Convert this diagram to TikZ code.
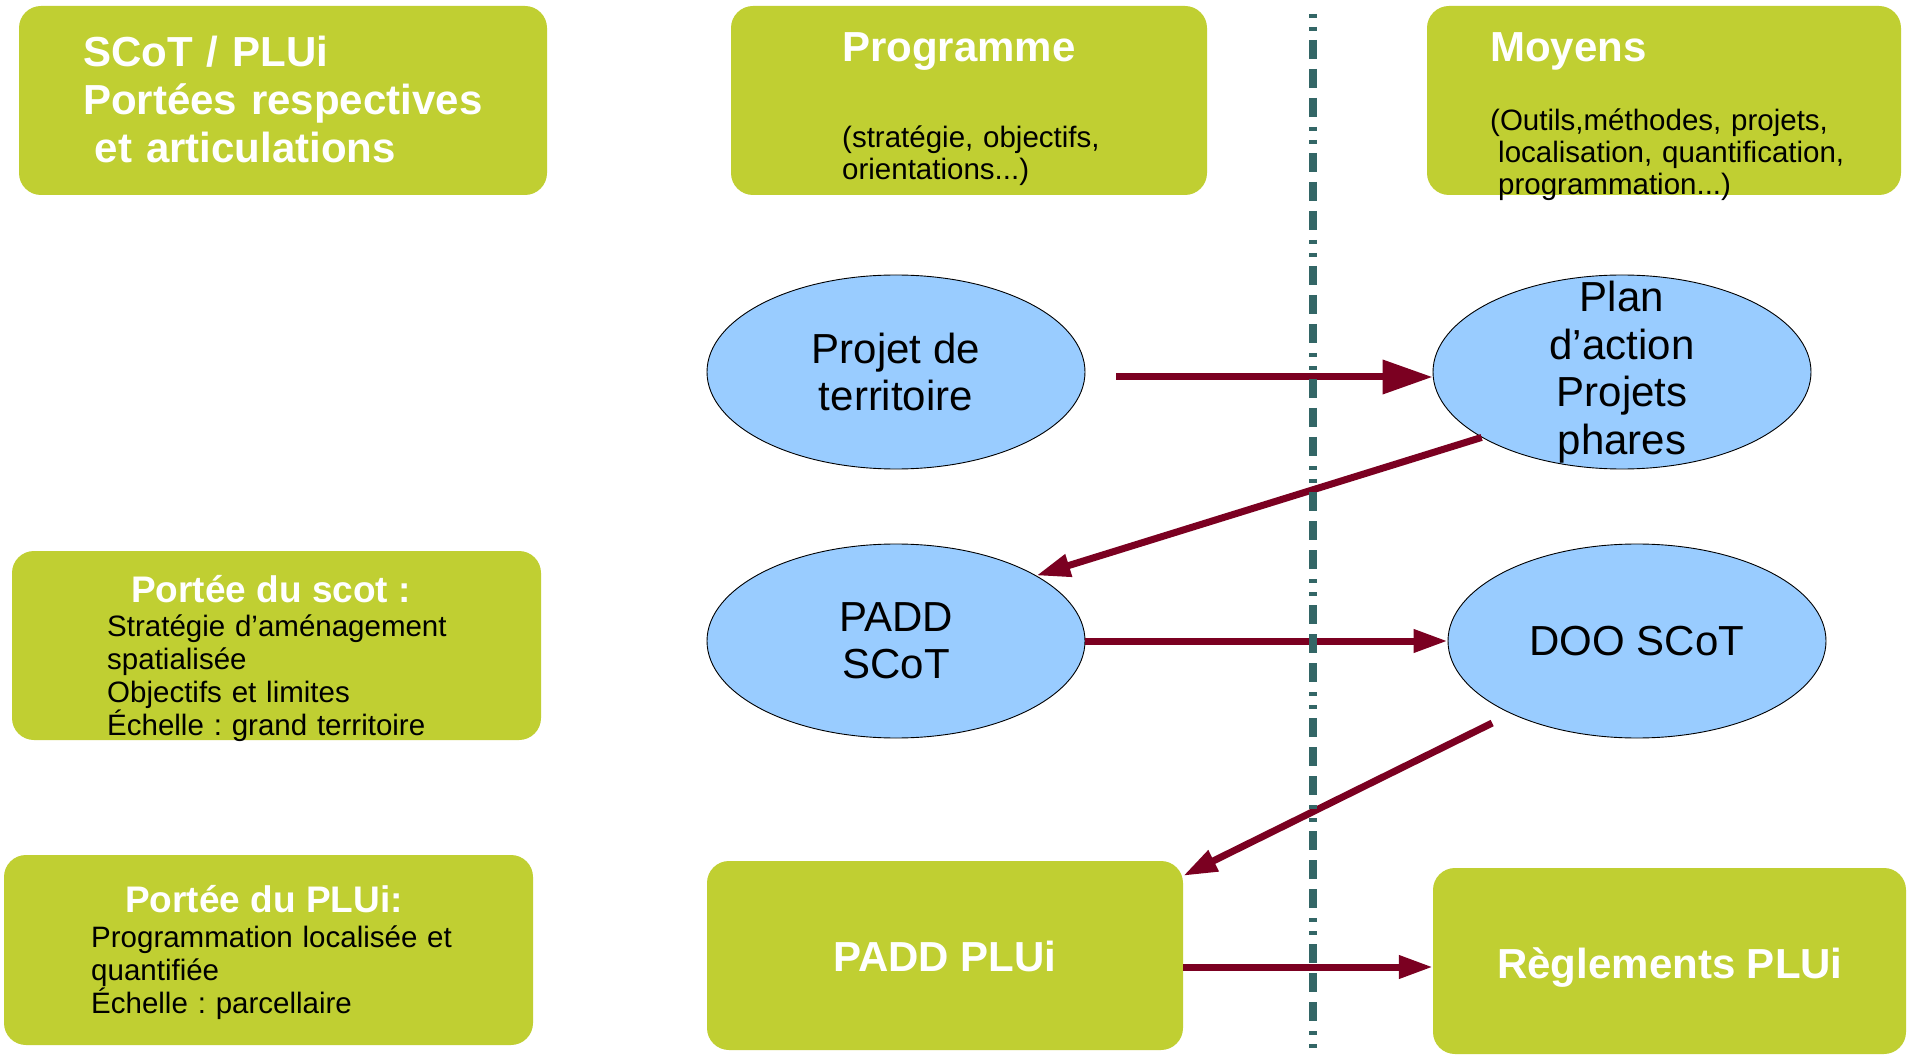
\documentclass[tikz,border=0pt]{standalone}
\usepackage{fontspec}
\setmainfont{Liberation Sans}
\usetikzlibrary{arrows.meta,shapes.geometric}
\definecolor{boxgreen}{RGB}{192,207,50}
\definecolor{ellblue}{RGB}{153,204,255}
\definecolor{arrred}{RGB}{123,0,33}
\definecolor{divteal}{RGB}{51,102,102}
\frenchspacing
\begin{document}
\begin{tikzpicture}[x=1pt,y=-1pt,
  gbox/.style={rectangle, fill=boxgreen, draw=none, rounded corners=22pt, inner sep=0pt},
  ellnode/.style={ellipse, fill=ellblue, draw=black, line width=0.9pt, minimum width=378pt, minimum height=194pt, inner sep=0pt},
  elltxt/.style={font=\fontsize{42}{47.5}\selectfont, align=center, inner sep=0pt, text=black},
  headtxt/.style={font=\fontsize{42}{48}\selectfont\bfseries, text=white, inner sep=0pt, anchor=base west, align=left, text width=470pt},
  subtxt/.style={font=\fontsize{29.5}{32}\selectfont, text=black, inner sep=0pt, anchor=base west, align=left, text width=440pt},
  porttitle/.style={font=\fontsize{37}{42}\selectfont\bfseries, text=white, inner sep=0pt, anchor=base},
  porttxt/.style={font=\fontsize{29.5}{33.3}\selectfont, text=black, inner sep=0pt, anchor=base west, align=left, text width=430pt},
  bigtxt/.style={font=\fontsize{42}{48}\selectfont\bfseries, text=white, inner sep=0pt, anchor=base},
  conn/.style={draw=arrred, line width=7pt},
  tipbig/.style={-{Triangle[length=50pt,width=33pt]}},
  tipsmall/.style={-{Triangle[length=34pt,width=22pt]}}
]
\fill[white] (0,0) rectangle (1907,1056);
\useasboundingbox (0,0) rectangle (1907,1056);

% green boxes
\node[gbox, minimum width=528pt, minimum height=189pt] (tbox) at (283,100.5) {};
\node[gbox, minimum width=476pt, minimum height=189pt] (prog) at (969,100.5) {};
\node[gbox, minimum width=474pt, minimum height=189pt] (moy) at (1664,100.5) {};
\node[gbox, minimum width=529pt, minimum height=189pt] (pscot) at (276.5,645.5) {};
\node[gbox, minimum width=529pt, minimum height=190pt] (pplu) at (268.5,950) {};
\node[gbox, minimum width=476pt, minimum height=189pt] (pplui) at (945,955.5) {};
\node[gbox, minimum width=473pt, minimum height=186pt] (regl) at (1669.5,961) {};

% texts in boxes
\node[headtxt] (ttitle) at (83,67) {SCoT / PLUi\\Portées respectives\\\hspace*{11.7pt}et articulations};
\node[headtxt] (tprog) at (842,62) {Programme};
\node[subtxt] (sprog) at (842,148) {(stratégie, objectifs,\\orientations...)};
\node[headtxt] (tmoy) at (1490,62) {Moyens};
\node[subtxt] (smoy) at (1490,131) {(Outils,méthodes, projets,\\\hspace*{8pt}localisation, quantification,\\\hspace*{8pt}programmation...)};
\node[porttitle] (tpscot) at (271,602) {Portée du scot :};
\node[porttxt] (spscot) at (107,636) {Stratégie d’aménagement\\spatialisée\\Objectifs et limites\\Échelle : grand territoire};
\node[porttitle] (tpplu) at (264,912) {Portée du PLUi:};
\node[porttxt] (spplu) at (91,947) {Programmation localisée et\\quantifiée\\Échelle : parcellaire};
\node[bigtxt] (tpplui) at (945,971) {PADD PLUi};
\node[bigtxt] (tregl) at (1670,978) {Règlements PLUi};

% ellipses
\node[ellnode, label={[elltxt]center:Projet de\\territoire}] (proj) at (896,372) {};
\node[ellnode, label={[elltxt]center:Plan\\d’action\\Projets\\phares}] (plan) at (1622,372) {};
\node[ellnode, label={[elltxt]center:PADD\\SCoT}] (padd) at (896,641) {};
\node[ellnode, label={[elltxt]center:DOO SCoT}] (doo) at (1637,641) {};

% connectors
\draw[conn, tipbig, shorten <=31pt] ([yshift=-5pt]proj.east) -- ([yshift=-5pt]plan.west);
\draw[conn, tipsmall] (plan.205) -- (padd.25);
\draw[conn, tipsmall] (padd.east) -- (doo.west);
\draw[conn, tipsmall, shorten <=21pt] (doo.210) -- ([yshift=-15pt]pplui.north east);
\draw[conn, tipsmall] ([yshift=-11.5pt]pplui.east) -- ([yshift=-6pt]regl.west);

% divider
\coordinate (divtop) at (1313,14);
\coordinate (divbot) at (1313,1056);
\draw[divteal, line width=7.5pt, dash pattern=on 4pt off 9pt on 4pt off 9pt on 19pt off 10pt on 19pt off 10pt on 19pt off 10pt] (divtop) -- (divbot);
\end{tikzpicture}
\end{document}
